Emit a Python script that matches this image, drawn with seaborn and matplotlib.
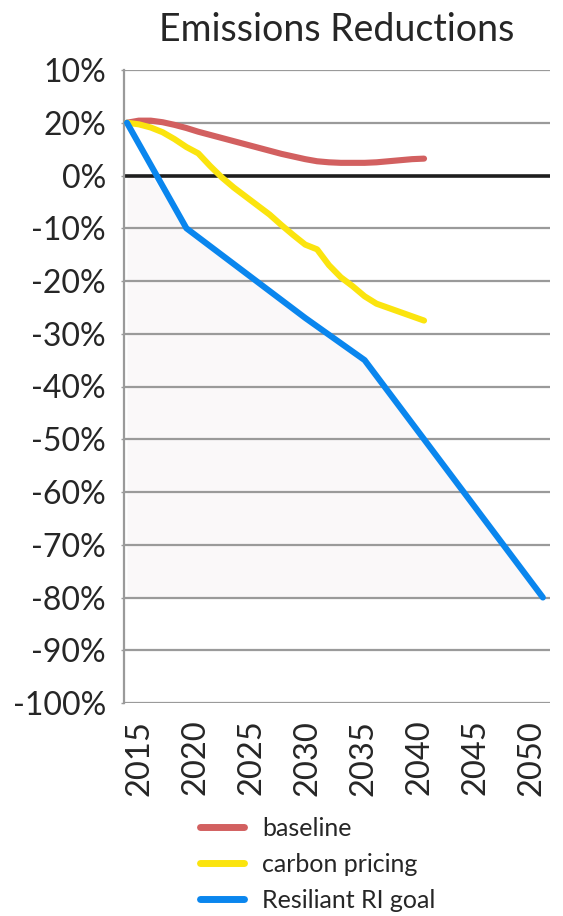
import numpy as np
import pandas as pd
import matplotlib
matplotlib.use("Agg")
import matplotlib.pyplot as plt
import seaborn as sns

# ---- data (y values in grid units: one gridline = 10) ----
baseline_years = list(range(2015, 2041))
baseline_vals = [10, 10.4, 10.4, 10.1, 9.6, 9.0, 8.3, 7.7, 7.1, 6.5, 5.9, 5.3, 4.7,
                 4.1, 3.6, 3.1, 2.7, 2.5, 2.4, 2.4, 2.4, 2.5, 2.7, 2.9, 3.1, 3.2]

carbon_years = list(range(2015, 2041))
carbon_vals = [10, 9.7, 9.1, 8.2, 6.9, 5.4, 4.2, 1.8, -0.4, -2.3, -4.0, -5.7, -7.4,
               -9.4, -11.3, -13.1, -14.0, -17.0, -19.3, -21.0, -22.9, -24.3, -25.1,
               -25.9, -26.7, -27.5]

goal_years = [2015, 2017, 2020, 2025, 2030, 2035, 2040, 2045, 2050]
goal_vals = [10, 2.0, -10, -18.5, -27, -35, -50, -65, -80]

series_names = ["baseline", "carbon pricing", "Resiliant RI goal"]
series_colors = ["#d26060", "#fbe40e", "#0a86ee"]

ytick_pos = [20, 10, 0, -10, -20, -30, -40, -50, -60, -70, -80, -90, -100]
ytick_labels = ["10%", "20%", "0%", "-10%", "-20%", "-30%", "-40%", "-50%",
                "-60%", "-70%", "-80%", "-90%", "-100%"]
xtick_years = [2015, 2020, 2025, 2030, 2035, 2040, 2045, 2050]

df = pd.concat([
    pd.DataFrame({"year": baseline_years, "value": baseline_vals, "series": series_names[0]}),
    pd.DataFrame({"year": carbon_years, "value": carbon_vals, "series": series_names[1]}),
    pd.DataFrame({"year": goal_years, "value": goal_vals, "series": series_names[2]}),
], ignore_index=True)

sns.set_style("white")
plt.rcParams["font.family"] = ["Lato", "DejaVu Sans"]

fig = plt.figure(figsize=(5.63, 9.16), dpi=100)
ax = fig.add_axes([124 / 563, 1 - 703 / 916, (550 - 124) / 563, (703 - 70) / 916])

# subtle shading below the goal line, down to its final level
gy = np.array(goal_years, dtype=float)
gv = np.array(goal_vals, dtype=float)
ax.fill_between(gy, np.minimum(gv, 0), gv.min(), color="#faf8f9", zorder=0, lw=0)

for y in ytick_pos:
    if y != 0:
        ax.axhline(y, color="#9a9a9a", lw=1.6, zorder=1)
ax.axhline(0, color="#1e1e1e", lw=2.6, zorder=2)

sns.lineplot(data=df, x="year", y="value", hue="series", hue_order=series_names,
             palette=series_colors, lw=4.4, ax=ax, legend=False, zorder=3,
             solid_capstyle="round", estimator=None, sort=True)

ax.set_xlim(2014.75, 2050.6)
ax.set_ylim(-100, 20)
ax.set_xlabel("")
ax.set_ylabel("")

ax.set_yticks(ytick_pos)
ax.set_yticklabels(ytick_labels, fontsize=23)
ax.tick_params(axis="y", length=2, width=1, color="#9a9a9a", pad=11, left=True)
ax.set_xticks(xtick_years)
ax.tick_params(axis="x", length=0, labelbottom=False)

# year labels sit on their own, slightly narrower, scale (as in the original)
ax2 = ax.twiny()
ax2.set_xlim(2013.568, 2051.70)
ax2.xaxis.set_ticks_position("bottom")
ax2.xaxis.set_label_position("bottom")
ax2.set_xticks(xtick_years)
ax2.set_xticklabels([str(y) for y in xtick_years], fontsize=23.5, rotation=90)
ax2.tick_params(axis="x", length=0, pad=12, top=False, labeltop=False,
                bottom=False, labelbottom=True)
ax2.grid(False)
for s in ax2.spines.values():
    s.set_visible(False)

for s in ["top", "right", "bottom"]:
    ax.spines[s].set_visible(False)
ax.spines["left"].set_color("#9a9a9a")
ax.spines["left"].set_linewidth(1.6)

ax2.set_title("Emissions Reductions", fontsize=27, pad=21)

handles = [plt.Line2D([0], [0], color=c, lw=5) for c in series_colors]
fig.legend(handles, series_names, loc="upper left",
           bbox_to_anchor=(200 / 563, 1 - 817 / 916), frameon=False,
           fontsize=18, handlelength=1.75, handletextpad=0.75,
           labelspacing=0.52, borderpad=0, borderaxespad=0)

fig.savefig("out.png", dpi=100)
